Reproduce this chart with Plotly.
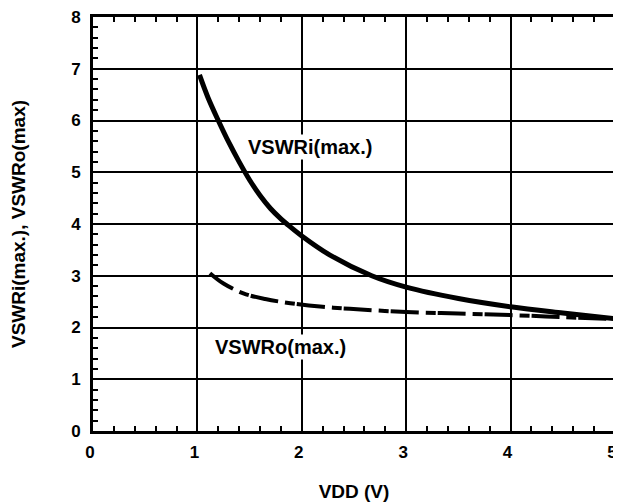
import plotly.graph_objects as go

vdd_i = [1.02, 1.1, 1.2, 1.3, 1.4, 1.5, 1.6, 1.7, 1.8, 1.87, 2.0, 2.27, 2.67, 3.0, 3.5, 4.0, 4.5, 5.0]
vswr_i = [6.88, 6.45, 6.0, 5.58, 5.2, 4.85, 4.55, 4.30, 4.10, 3.98, 3.77, 3.40, 3.0, 2.78, 2.56, 2.40, 2.28, 2.17]

vdd_o = [1.12, 1.25, 1.44, 1.65, 1.89, 2.2, 2.46, 3.0, 3.5, 4.0, 4.5, 5.0]
vswr_o = [3.05, 2.85, 2.66, 2.55, 2.47, 2.40, 2.36, 2.30, 2.27, 2.24, 2.20, 2.16]

x_ticks = [0, 1, 2, 3, 4, 5]
y_ticks = [0, 1, 2, 3, 4, 5, 6, 7, 8]

FONT = "Liberation Sans, Arial, sans-serif"
TICK_SIZE = 17
TITLE_SIZE = 19
LABEL_SIZE = 20

fig = go.Figure()
fig.add_trace(go.Scatter(x=vdd_i, y=vswr_i, mode="lines",
                         line=dict(color="black", width=5, shape="spline", smoothing=1), showlegend=False))
fig.add_trace(go.Scatter(x=vdd_o, y=vswr_o, mode="lines",
                         line=dict(color="black", width=4, shape="spline", smoothing=1, dash="28px,7px,10px,2px"),
                         showlegend=False))

fig.add_annotation(x=2.08, y=5.49, text="VSWRi(max.)", showarrow=False, bgcolor="white",
                   font=dict(family=FONT, size=LABEL_SIZE, color="black", weight="bold"))
fig.add_annotation(x=1.80, y=1.63, text="VSWRo(max.)", showarrow=False, bgcolor="white",
                   font=dict(family=FONT, size=LABEL_SIZE, color="black", weight="bold"))

axis_common = dict(showline=True, linewidth=3, linecolor="black",
                   showgrid=True, gridcolor="black", gridwidth=2, zeroline=False,
                   ticks="inside", ticklen=5, tickwidth=2, tickcolor="black",
                   ticklabeloverflow="allow",
                   tickfont=dict(family=FONT, size=TICK_SIZE, color="black", weight="bold"),
                   minor=dict(ticks="inside", ticklen=5, tickwidth=2, tickcolor="black", showgrid=False))

fig.update_xaxes(range=[0, 5], tickvals=x_ticks, minor_dtick=0.2, ticklabelstandoff=4, ticklabelshift=-3,
                 mirror="ticks",
                 title=dict(text="VDD (V)", font=dict(family=FONT, size=TITLE_SIZE, color="black", weight="bold"), standoff=26),
                 **axis_common)
fig.update_yaxes(range=[0, 8], tickvals=y_ticks, minor_dtick=0.2, ticklabelstandoff=6,
                 mirror=True,
                 title=dict(text="VSWRi(max.), VSWRo(max)", font=dict(family=FONT, size=TITLE_SIZE, color="black", weight="bold"), standoff=45),
                 **axis_common)

# the page body adds an 8px offset, so the figure is sized to fill the rest of the window
fig.update_layout(width=613, height=494, margin=dict(l=85, r=6, t=9, b=71, autoexpand=False),
                  plot_bgcolor="white", paper_bgcolor="white",
                  font=dict(family=FONT, color="black"))

fig.write_html("out.html")
